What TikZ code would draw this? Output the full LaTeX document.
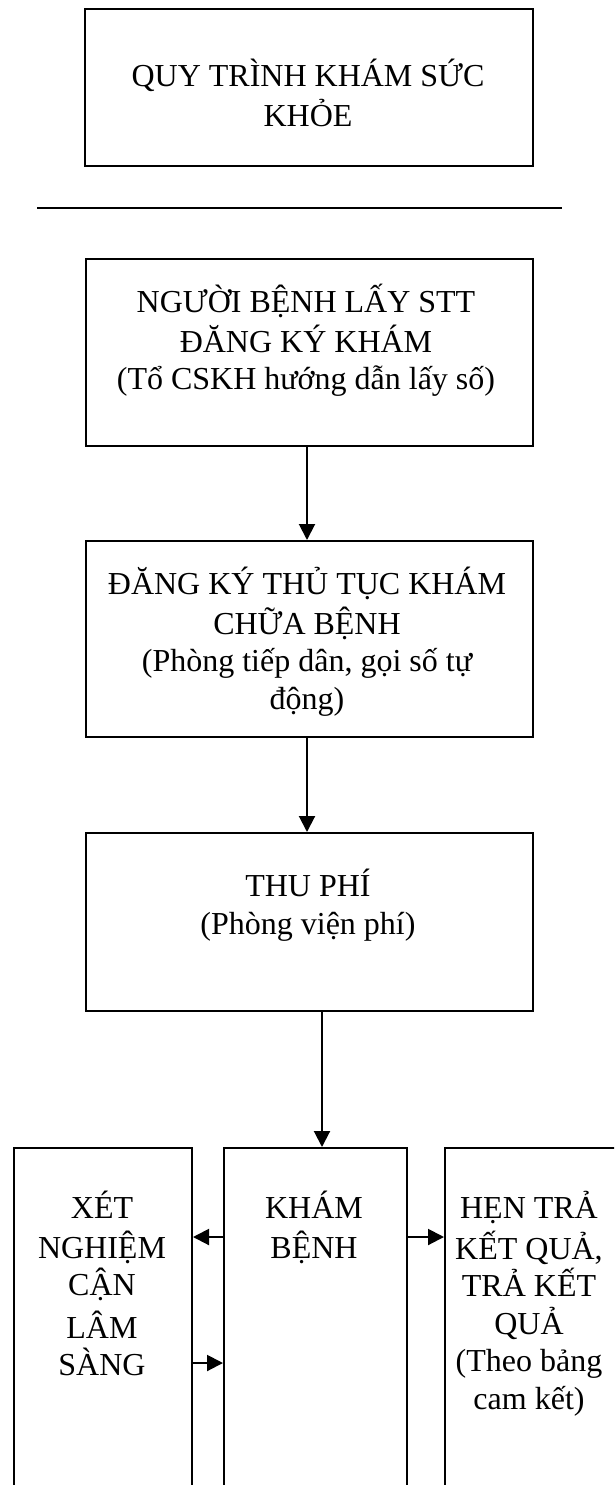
\documentclass[tikz,border=0pt]{standalone}
\usepackage{fontspec}
\setmainfont{Liberation Serif}
\usetikzlibrary{arrows.meta}
\begin{document}
\begin{tikzpicture}[x=1pt,y=-1pt,
  stage/.style={draw, line width=2pt, inner sep=0pt, anchor=north west},
  boxtext/.style={align=center, inner sep=0pt, anchor=north,
    font=\fontsize{32}{37.5}\selectfont},
  flow/.style={-{Triangle[width=16pt,length=16pt]}, line width=2pt}]
\useasboundingbox (0,0) rectangle (614,1485);
\clip (0,0) rectangle (614,1485);

% title and separator rule
\node[stage, minimum width=448pt, minimum height=157pt] (title) at (84,8) {};
\node[boxtext] (titletext) at (308,59) {\strut QUY TRÌNH KHÁM SỨC\\KHỎE};
\draw[line width=2pt] (37,208) -- (562,208);

% main sequence
\node[stage, minimum width=447pt, minimum height=187pt] (ticket) at (85,258) {};
\node[boxtext] (tickettext) at (306,284)
  {\strut NGƯỜI BỆNH LẤY STT\\ĐĂNG KÝ KHÁM\\(Tổ CSKH hướng dẫn lấy số)};

\node[stage, minimum width=447pt, minimum height=196pt] (register) at (85,540) {};
\node[boxtext] (registertext) at (307,567)
  {\strut ĐĂNG KÝ THỦ TỤC KHÁM\\CHỮA BỆNH\\(Phòng tiếp dân, gọi số tự\\động)};

\node[stage, minimum width=447pt, minimum height=178pt] (fee) at (85,832) {};
\node[boxtext] (feetext) at (308,869) {\strut THU PHÍ\\(Phòng viện phí)};

% bottom row
\node[stage, minimum width=178pt, minimum height=400pt] (lab) at (13,1147) {};
\node[stage, minimum width=183pt, minimum height=400pt] (exam) at (223,1147) {};
\node[stage, minimum width=200pt, minimum height=400pt] (result) at (444,1147) {};

\node[boxtext] (labtext) at (102,1191)
  {\strut XÉT\\NGHIỆM\\CẬN\\[5pt]LÂM\\SÀNG};
\node[boxtext] (examtext) at (314,1191) {\strut KHÁM\\BỆNH};
\node[boxtext] (resulttext) at (529,1191)
  {\strut HẸN TRẢ\\KẾT QUẢ,\\TRẢ KẾT\\QUẢ\\(Theo bảng\\cam kết)};

% connectors
\coordinate (rowA) at (0,1237);
\coordinate (rowB) at (0,1363);
\coordinate (feeout) at ([xshift=12.5pt]fee.south);
\draw[flow] ([xshift=-2.5pt]ticket.south) -- ([xshift=-2.5pt]register.north);
\draw[flow] ([xshift=-2.5pt]register.south) -- ([xshift=-2.5pt]fee.north);
\draw[flow] (feeout) -- (feeout |- exam.north);
\draw[flow] (exam.west |- rowA) -- (lab.east |- rowA);
\draw[flow] (exam.east |- rowA) -- (result.west |- rowA);
\draw[flow] (lab.east |- rowB) -- (exam.west |- rowB);
\end{tikzpicture}
\end{document}
